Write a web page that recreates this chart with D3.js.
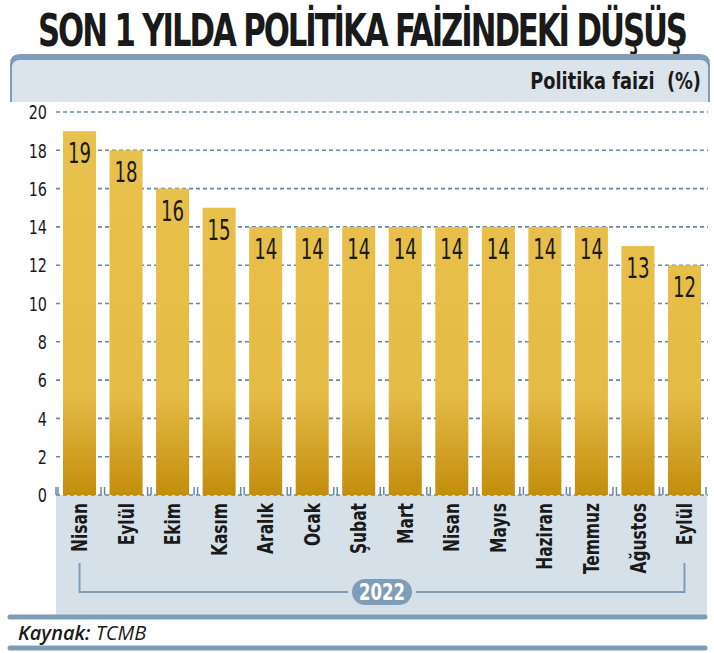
<!DOCTYPE html>
<html>
<head>
<meta charset="utf-8">
<script src="https://cdn.jsdelivr.net/npm/d3@7"></script>
<style>
  body { margin: 0; background: #fff; }
  svg text { font-family: "DejaVu Sans Condensed", "DejaVu Sans", sans-serif; font-stretch: condensed; }
</style>
</head>
<body>
<div id="chart"></div>
<script>
// Chart data
var months = ["Nisan", "Eylül", "Ekim", "Kasım", "Aralık", "Ocak", "Şubat", "Mart", "Nisan", "Mayıs", "Haziran", "Temmuz", "Ağustos", "Eylül"];
var rates = [19, 18, 16, 15, 14, 14, 14, 14, 14, 14, 14, 14, 13, 12];
var yTicks = [0, 2, 4, 6, 8, 10, 12, 14, 16, 18, 20];
var titleText = "SON 1 YILDA POLİTİKA FAİZİNDEKİ DÜŞÜŞ";
var unitText = "Politika faizi  (%)";
var yearText = "2022";

var width = 714, height = 653;
var blue = "#7f9db6", panel = "#d6e0e9", header = "#dce4eb", grid = "#6688a8";

var svg = d3.select("#chart")
	.append("svg")
		.attr("width", width)
		.attr("height", height);

// scales
var x = d3.scaleBand()
	.domain(d3.range(months.length))
	.range([63, 701])
	.paddingInner(0.29)
	.paddingOuter(0);
var y = d3.scaleLinear()
	.domain([0, 20])
	.range([495, 112]);

// gradient for the bars
var grad = svg.append("defs").append("linearGradient")
	.attr("id", "barGrad")
	.attr("gradientUnits", "userSpaceOnUse")
	.attr("x1", 0).attr("x2", 0)
	.attr("y1", y(0)).attr("y2", y(20));
grad.append("stop").attr("offset", 0).attr("stop-color", "#c38d0d");
grad.append("stop").attr("offset", 0.26).attr("stop-color", "#e4bb45");
grad.append("stop").attr("offset", 1).attr("stop-color", "#e9c24d");

// title (squeezed to look condensed)
svg.append("text")
	.attr("transform", "translate(38,46) scale(0.76,1)")
	.attr("textLength", 650 / 0.76)
	.attr("lengthAdjust", "spacing")
	.style("font-size", "45px")
	.style("font-weight", "bold")
	.style("fill", "#1a1a1a")
	.text(titleText);

// header band
svg.append("path")
	.attr("d", "M10,102 L10,64 Q10,54 20,54 L700,54 Q710,54 710,64 L710,102 Z")
	.attr("fill", blue);
svg.append("path")
	.attr("d", "M12,102 L12,68 Q12,60 20,60 L700,60 Q708,60 708,68 L708,102 Z")
	.attr("fill", header);
svg.append("text")
	.attr("transform", "translate(701,89) scale(0.86,1)")
	.attr("text-anchor", "end")
	.style("white-space", "pre")
	.style("font-size", "23px")
	.style("font-weight", "bold")
	.style("fill", "#1a1a1a")
	.text(unitText);

// bottom panel
svg.append("rect")
	.attr("x", 56)
	.attr("y", y(0))
	.attr("width", 651)
	.attr("height", 120)
	.attr("fill", panel);

// gridlines
svg.append("g").selectAll("line")
	.data(yTicks)
	.enter().append("line")
		.attr("x1", 56)
		.attr("x2", 708)
		.attr("y1", function(d) { return y(d); })
		.attr("y2", function(d) { return y(d); })
		.attr("stroke", grid)
		.attr("stroke-width", 1.6)
		.attr("stroke-dasharray", "4,3");

// y tick labels
svg.append("g").selectAll("text")
	.data(yTicks)
	.enter().append("text")
		.attr("transform", function(d) { return "translate(47," + y(d) + ") scale(0.8,1)"; })
		.attr("dy", "0.36em")
		.attr("text-anchor", "end")
		.style("font-size", "20px")
		.style("fill", "#1a1a1a")
		.text(function(d) { return d; });

// small ticks in the gaps at zero
var gapTicks = [56];
for (var i = 0; i < months.length; i++) {
	gapTicks.push(x(i) - 5);
	gapTicks.push(x(i) + x.bandwidth() + 5);
}
svg.append("g").selectAll("line")
	.data(gapTicks)
	.enter().append("line")
		.attr("x1", function(d) { return d; })
		.attr("x2", function(d) { return d; })
		.attr("y1", y(0) - 8)
		.attr("y2", y(0))
		.attr("stroke", grid)
		.attr("stroke-width", 1.5);

// bars
svg.append("g").selectAll("rect")
	.data(rates)
	.enter().append("rect")
		.attr("x", function(d, i) { return x(i); })
		.attr("y", function(d) { return y(d); })
		.attr("width", x.bandwidth())
		.attr("height", function(d) { return y(0) - y(d); })
		.attr("fill", "url(#barGrad)");

// value labels
svg.append("g").selectAll("text")
	.data(rates)
	.enter().append("text")
		.attr("transform", function(d, i) {
			return "translate(" + (x(i) + x.bandwidth() / 2) + "," + (y(d) + 32) + ") scale(0.72,1)";
		})
		.attr("text-anchor", "middle")
		.style("font-size", "28px")
		.style("fill", "#1a1a1a")
		.text(function(d) { return d; });

// month labels (rotated)
svg.append("g").selectAll("text")
	.data(months)
	.enter().append("text")
		.attr("transform", function(d, i) {
			return "translate(" + (x(i) + x.bandwidth() / 2) + "," + (y(0) + 8) + ") rotate(-90) scale(0.82,1)";
		})
		.attr("dy", "0.36em")
		.attr("text-anchor", "end")
		.style("font-size", "21px")
		.style("font-weight", "bold")
		.style("fill", "#1a1a1a")
		.text(function(d) { return d; });

// year bracket
var xFirst = x(0) + x.bandwidth() / 2;
var xLast = x(months.length - 1) + x.bandwidth() / 2;
var xMid = (xFirst + xLast) / 2;
var bracketY = 592;
svg.append("path")
	.attr("d", "M" + xFirst + ",563 V" + bracketY + " H" + xLast + " V563")
	.attr("fill", "none")
	.attr("stroke", blue)
	.attr("stroke-width", 2);
svg.append("rect")
	.attr("x", xMid - 32)
	.attr("y", bracketY - 15)
	.attr("width", 64)
	.attr("height", 30)
	.attr("rx", 15)
	.attr("fill", blue)
	.attr("stroke", panel)
	.attr("stroke-width", 4);
svg.append("text")
	.attr("transform", "translate(" + xMid + "," + bracketY + ") scale(0.8,1)")
	.attr("dy", "0.36em")
	.attr("text-anchor", "middle")
	.style("font-size", "23px")
	.style("font-weight", "bold")
	.style("fill", "#fff")
	.text(yearText);

// source lines
svg.append("line")
	.attr("x1", 10).attr("x2", 705)
	.attr("y1", 617).attr("y2", 617)
	.attr("stroke", blue)
	.attr("stroke-width", 5)
	.attr("stroke-linecap", "round");
svg.append("line")
	.attr("x1", 10).attr("x2", 705)
	.attr("y1", 648).attr("y2", 648)
	.attr("stroke", blue)
	.attr("stroke-width", 5)
	.attr("stroke-linecap", "round");
var src = svg.append("text")
	.attr("x", 18)
	.attr("y", 640)
	.style("font-family", "'Open Sans', 'Noto Sans', sans-serif")
	.style("font-stretch", "normal")
	.style("font-size", "20px")
	.style("font-style", "italic")
	.style("fill", "#1a1a1a");
src.append("tspan").style("font-weight", "600").text("Kaynak:");
src.append("tspan").text(" TCMB");
</script>
</body>
</html>
